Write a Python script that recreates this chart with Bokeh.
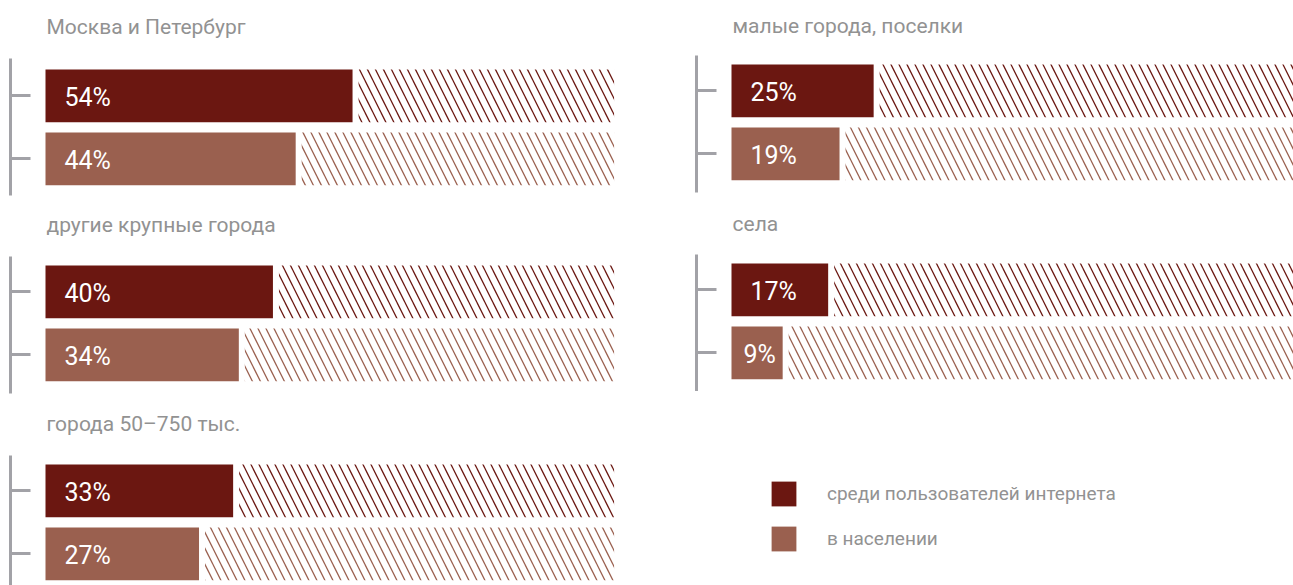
from bokeh.plotting import figure
from bokeh.models import (LinearAxis, FixedTicker, Range1d, ColumnDataSource,
                          Legend, LegendItem)
from bokeh.layouts import row, column
from bokeh.core.properties import value
from bokeh.embed import file_html
from bokeh.resources import INLINE

# ---------------- data ----------------
categories = ["Москва и Петербург", "другие крупные города", "города 50–750 тыс.",
              "малые города, поселки", "села"]
internet_users = [54, 40, 33, 25, 17]
population = [44, 34, 27, 19, 9]
series_names = ["среди пользователей интернета", "в населении"]

# ---------------- style ----------------
DARK = "#6b1711"
LIGHT = "#9a604f"
AXIS_GRAY = "#a2a2a7"
TEXT_GRAY = "#929292"
FONT = "Roboto"
PX_PER_PCT = 5.686
PITCH = 63.0           # px between the two bars
BAR_H = 52.7 / PITCH
GAP_PCT = 6.0 / PX_PER_PCT
BORDER_L = 10
ZERO_FROM_FRAME = 35.0


def panel(title, v_int, v_pop, width, height, axis_top, axis_bot, dark_c, title_base):
    def ypx(px):
        return 1 - (px - dark_c) / PITCH

    frame_w = width - BORDER_L
    x0 = -ZERO_FROM_FRAME / PX_PER_PCT
    x1 = x0 + frame_w / PX_PER_PCT
    p = figure(width=width, height=height, x_range=Range1d(x0, x1),
               y_range=Range1d(ypx(height), ypx(0)),
               output_backend="svg", toolbar_location=None,
               x_axis_location=None, y_axis_location=None,
               min_border_left=BORDER_L, min_border_right=0, min_border_top=0,
               min_border_bottom=0, outline_line_color=None)
    p.grid.visible = False

    ax = LinearAxis(ticker=FixedTicker(ticks=[0, 1]),
                    bounds=(ypx(axis_bot), ypx(axis_top)))
    ax.axis_line_color = AXIS_GRAY
    ax.axis_line_width = 3
    ax.major_tick_line_color = AXIS_GRAY
    ax.major_tick_line_width = 3
    ax.major_tick_in = 20
    ax.major_tick_out = 0
    ax.minor_tick_line_color = None
    ax.major_label_overrides = {0: "", 1: ""}
    ax.major_label_text_color = None
    ax.major_label_standoff = 0
    p.add_layout(ax, "left")

    vals = [v_int, v_pop]
    src = ColumnDataSource(dict(
        y=[1, 0],
        v=vals,
        rest_left=[v + GAP_PCT for v in vals],
        color=[DARK, LIGHT],
        label=[f"{v}%" for v in vals],
        xoff=[19 if v * PX_PER_PCT > 80 else 12 for v in vals],
    ))
    p.hbar(y="y", left=0, right="v", height=BAR_H, fill_color="color",
           line_color=None, source=src)
    p.hbar(y="y", left="rest_left", right=100, height=BAR_H, fill_color=None,
           fill_alpha=0, line_color=None, hatch_pattern="\\", hatch_color="color",
           hatch_scale=16, hatch_weight=1.3, source=src)
    p.text(x=0, y="y", text="label", x_offset="xoff", y_offset=2, text_align="left",
           text_baseline="middle", text_color="white", text_font=value(FONT),
           text_font_size="25px", source=src)

    # panel title
    p.text(x=[0], y=[ypx(title_base)], text=[title], x_offset=1,
           text_align="left", text_baseline="alphabetic", text_color=TEXT_GRAY,
           text_font=value(FONT), text_font_size="21px")
    return p


LW = 686
RW = 607

l1 = panel(categories[0], internet_users[0], population[0], LW, 206, 58, 195, 95.3, 26.3)
l2 = panel(categories[1], internet_users[1], population[1], LW, 198, 50, 187, 85.3, 18.3)
l3 = panel(categories[2], internet_users[2], population[2], LW, 181, 51, 181, 86.3, 19.5)
r1 = panel(categories[3], internet_users[3], population[3], RW, 204, 55, 191.7, 90.3, 25.5)
r2 = panel(categories[4], internet_users[4], population[4], RW, 187, 50, 186.7, 85.3, 19.2)

# legend figure (swatch renderers sit outside the visible range)
lg = figure(width=RW, height=194, x_range=Range1d(0, 1), y_range=Range1d(0, 1),
            output_backend="svg", toolbar_location=None,
            x_axis_location=None, y_axis_location=None,
            min_border=0, outline_line_color=None)
lg.grid.visible = False
ra = lg.hbar(y=[-5], right=[1], height=0.1, fill_color=DARK, line_color=None)
rb = lg.hbar(y=[-5], right=[1], height=0.1, fill_color=LIGHT, line_color=None)
legend = Legend(items=[LegendItem(label=series_names[0], renderers=[ra]),
                       LegendItem(label=series_names[1], renderers=[rb])],
                location=(72, 31), orientation="vertical",
                glyph_width=31, glyph_height=31, label_height=31, spacing=14,
                label_standoff=28, padding=0, margin=0,
                border_line_color=None, background_fill_alpha=0,
                label_text_font=FONT, label_text_font_size="19px",
                label_text_color=TEXT_GRAY, label_text_baseline="middle")
lg.add_layout(legend)

layout = row(column(l1, l2, l3), column(r1, r2, lg))

open("out.html", "w").write(file_html(layout, INLINE))
